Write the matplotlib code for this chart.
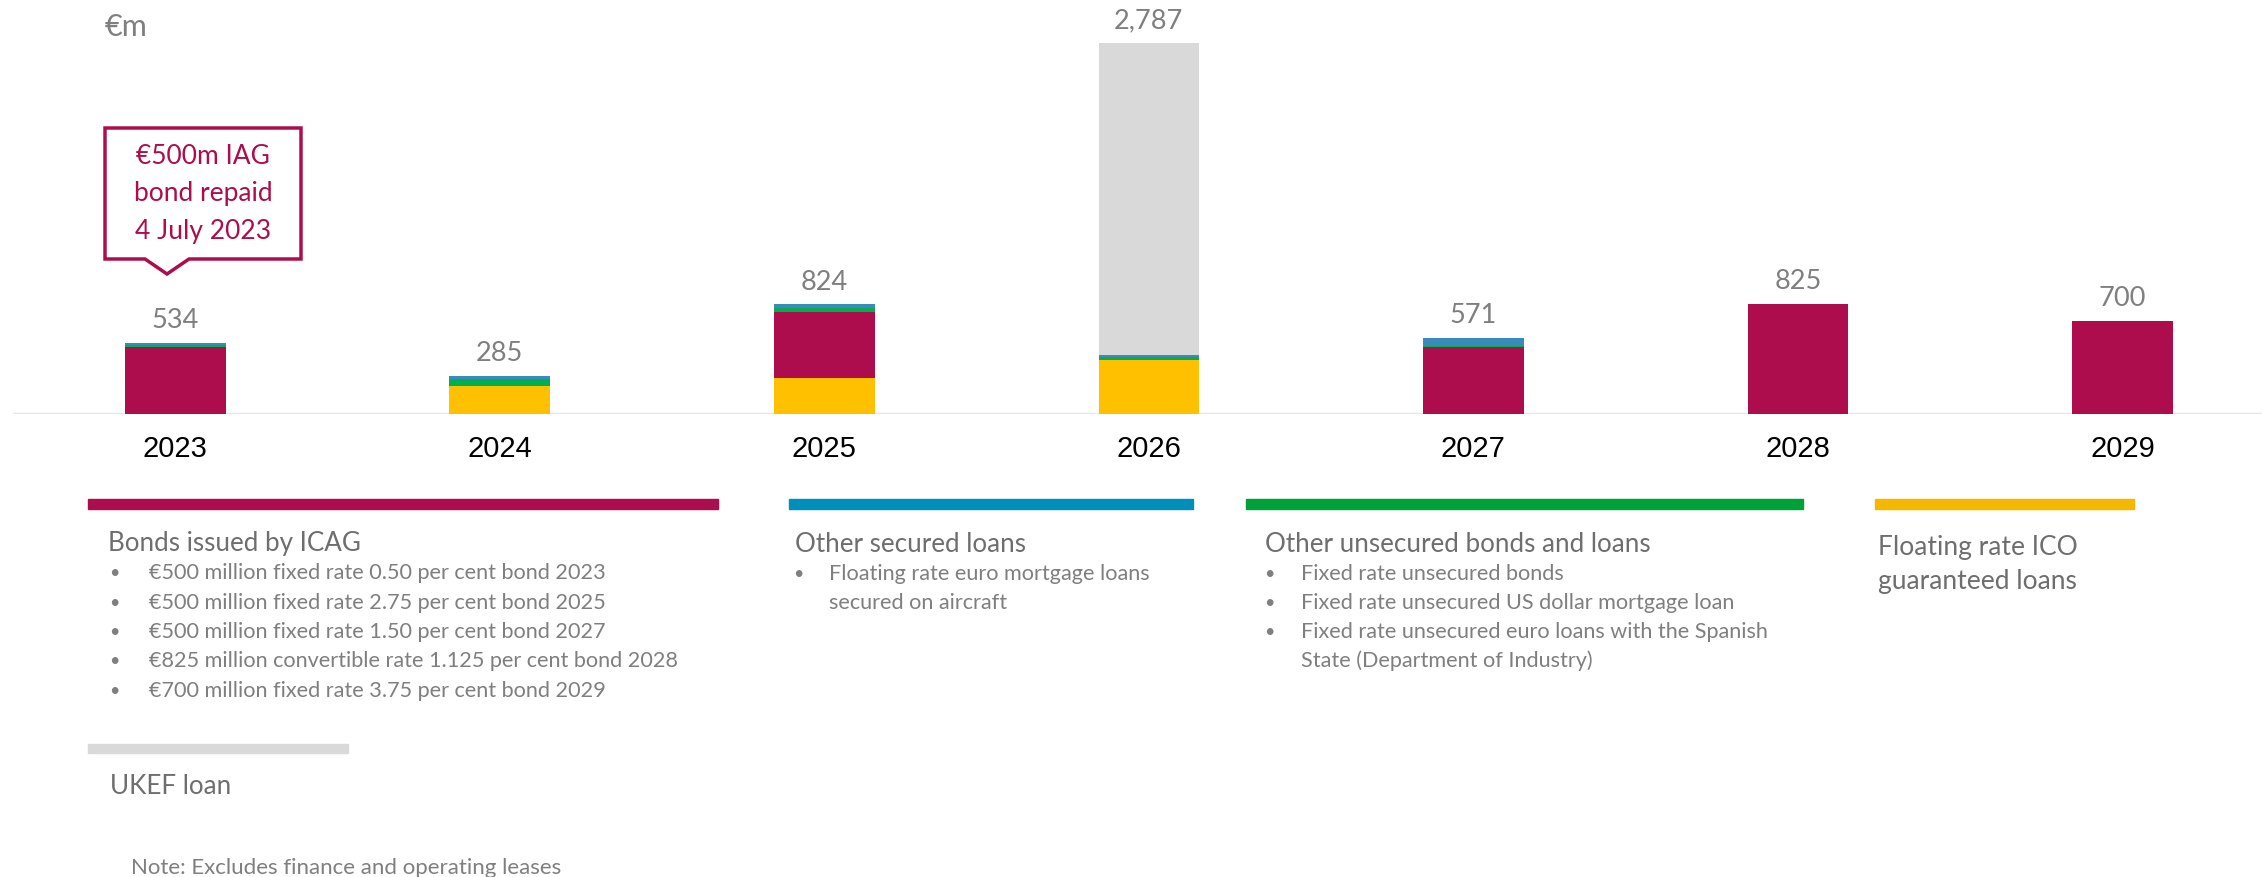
import matplotlib
matplotlib.use("Agg")
from matplotlib import pyplot as plt
from matplotlib.patches import Polygon, Rectangle
import numpy as np

plt.rcParams["font.family"] = ["Lato", "DejaVu Sans"]

# data (EUR m), stacked bottom to top
years = ["2023", "2024", "2025", "2026", "2027", "2028", "2029"]
ico_loans = [0, 214, 268, 405, 0, 0, 0]
icag_bonds = [500, 0, 500, 0, 500, 825, 700]
unsecured = [18, 50, 25, 22, 12, 0, 0]
secured = [16, 21, 31, 15, 59, 0, 0]
ukef = [0, 0, 0, 2345, 0, 0, 0]
totals = [534, 285, 824, 2787, 571, 825, 700]

stack = [
    (ico_loans, "#FFC000"),
    (icag_bonds, "#AD0D4D"),
    (unsecured, "#00B050"),
    (secured, "#3A8BBB"),
    (ukef, "#D9D9D9"),
]

W, H = 2262, 877
CRIMSON = "#AD0D4D"
GREY = "#7F7F7F"
HEAD = "#6E6E6E"


def fx(px):
    return px / W


def fy(py):
    return 1 - py / H


fig = plt.figure(figsize=(W / 100, H / 100), dpi=100)
ax = fig.add_axes([fx(13), fy(414), 1 - fx(13), 414 / H])

x = np.arange(len(years))
bottom = np.zeros(len(years))
for values, color in stack:
    ax.bar(x, values, width=0.31, bottom=bottom, color=color, linewidth=0)
    bottom += np.array(values)

for xi, total in zip(x, totals):
    ax.annotate(f"{total:,}", (xi, total), xytext=(0, 7), textcoords="offset points",
                ha="center", va="bottom", fontsize=19.5, color=GREY)

ax.set_xlim(-0.5, 6.43)
ax.set_ylim(0, 3110)
ax.axhline(0, color="#E6E6E6", lw=2.5, zorder=0)
ax.axis("off")

# year labels
for xi, year in zip(x, years):
    ax.annotate(year, (xi, 0), xytext=(0, -25), textcoords="offset points",
                ha="center", va="center", fontsize=21, color="black",
                family=["Liberation Sans", "DejaVu Sans"])

fig.text(fx(105), fy(27), "€m", fontsize=22, color=GREY, va="center")

# callout
box = [(105, 128), (301, 128), (301, 259), (189, 259), (167, 274), (145, 259), (105, 259)]
fig.patches.append(Polygon([(fx(a), fy(b)) for a, b in box], closed=True, fill=False,
                           edgecolor=CRIMSON, lw=2.5, transform=fig.transFigure))
fig.text(fx(203), fy(194), "€500m IAG\nbond repaid\n4 July 2023", ha="center", va="center",
         fontsize=19, color=CRIMSON, linespacing=1.6)

# legend blocks
legend_bars = [
    (88, 718, 499, 10, "#AD0D4D"),
    (789, 1193, 499, 10, "#008FBB"),
    (1246, 1803, 499, 10, "#00A13A"),
    (1875, 2134, 499, 10, "#F5B800"),
    (88, 348, 744, 9, "#D9D9D9"),
]
for x0, x1, y0, h, color in legend_bars:
    fig.patches.append(Rectangle((fx(x0), fy(y0 + h)), fx(x1 - x0), h / H,
                                 color=color, transform=fig.transFigure))

headings = [
    (108, 544, "Bonds issued by ICAG"),
    (795, 544, "Other secured loans"),
    (1265, 544, "Other unsecured bonds and loans"),
    (110, 786, "UKEF loan"),
]
for hx, hy, txt in headings:
    fig.text(fx(hx), fy(hy), txt, fontsize=18.7, color=HEAD, va="center")

fig.text(fx(1878), fy(565), "Floating rate ICO\nguaranteed loans", fontsize=19, color=HEAD,
         va="center", linespacing=1.45)

bullets = [
    (114, 149, 573, "€500 million fixed rate 0.50 per cent bond 2023", True),
    (114, 149, 603, "€500 million fixed rate 2.75 per cent bond 2025", True),
    (114, 149, 632, "€500 million fixed rate 1.50 per cent bond 2027", True),
    (114, 149, 661, "€825 million convertible rate 1.125 per cent bond 2028", True),
    (114, 149, 691, "€700 million fixed rate 3.75 per cent bond 2029", True),
    (798, 829, 574, "Floating rate euro mortgage loans", True),
    (798, 829, 603, "secured on aircraft", False),
    (1269, 1301, 574, "Fixed rate unsecured bonds", True),
    (1269, 1301, 603, "Fixed rate unsecured US dollar mortgage loan", True),
    (1269, 1301, 632, "Fixed rate unsecured euro loans with the Spanish", True),
    (1269, 1301, 661, "State (Department of Industry)", False),
]
for bx, tx, ty, txt, dot in bullets:
    if dot:
        fig.text(fx(bx), fy(ty), "•", fontsize=13, color=GREY, va="center", ha="center")
    fig.text(fx(tx), fy(ty), txt, fontsize=15.6, color=GREY, va="center")

fig.text(fx(131), fy(868), "Note: Excludes finance and operating leases", fontsize=16,
         color=GREY, va="center")

fig.savefig("out.png", dpi=100)
